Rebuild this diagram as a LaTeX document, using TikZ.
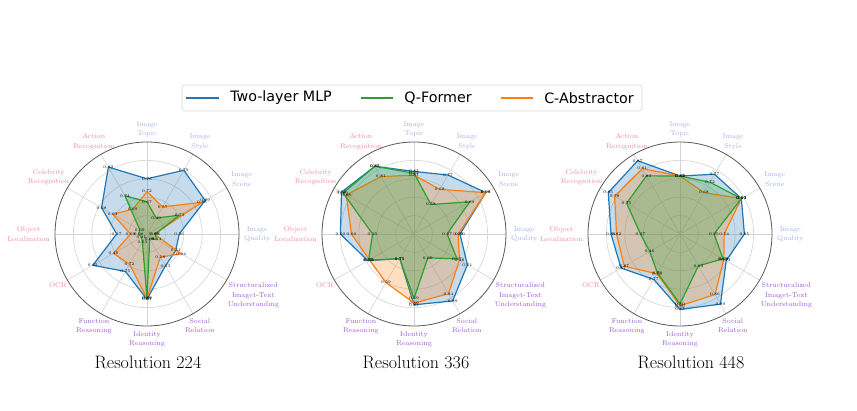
\documentclass[tikz,border=0pt]{standalone}
\usepackage{fontspec}
\newfontfamily\legfont{DejaVu Sans}
\usepackage{tikz}
\usetikzlibrary{positioning}

\definecolor{mlp}{HTML}{1F77B4}
\definecolor{qf}{HTML}{2CA02C}
\definecolor{cabs}{HTML}{FF7F0E}
\definecolor{imgc}{HTML}{A7B3E8}
\definecolor{recc}{HTML}{F08C9C}
\definecolor{reac}{HTML}{9C5ED6}

\pgfdeclarelayer{front}
\pgfsetlayers{main,front}

\tikzset{
  gridc/.style={draw=black!17, line width=0.6pt},
  rim/.style={draw=black!65, line width=0.8pt},
  axlab/.style={font=\fontsize{7}{9.3}\selectfont, align=center, inner sep=0.5pt},
  val/.style={font=\fontsize{4}{4}\selectfont, inner sep=0pt},
  poly/.style={draw=#1, fill=#1, fill opacity=.25, line width=1.2pt, line join=round},
  ttl/.style={font=\fontsize{18}{20}\selectfont},
  legbox/.style={draw=black!15, fill=white, rounded corners=3pt, line width=0.6pt},
  legline/.style={draw=#1, line width=2.5pt},
  legtxt/.style={font=\legfont\fontsize{14.3}{16}\selectfont, inner sep=0pt}
}

% one polygon: name prefix, colour, radius/value pairs from Image Topic clockwise
\newcommand{\radarseries}[3]{%
  \foreach \r/\v [count=\i from 0] in {#3}{
    \coordinate (#1\i) at (90-30*\i:\r*92);
    \begin{pgfonlayer}{front}\node[val] (#1v\i) at (#1\i) {\v};\end{pgfonlayer}
  }
  \draw[poly=#2] (#10) \foreach \i in {1,...,11}{ -- (#1\i)} -- cycle;
}

\begin{document}
\begin{tikzpicture}[x=1pt,y=1pt]
  \fill[white] (0,0) rectangle (857,410);
  \useasboundingbox (0,0) rectangle (857,410);
  \clip (0,0) rectangle (812,410);

  % grid, axis names and titles
  \foreach \cx/\tx/\res in {147/148/224, 414/416/336, 680/691/448}{
    \begin{scope}[shift={(\cx,176)}]
      \foreach \g in {0.2,0.4,0.6,0.8} \draw[gridc] (0,0) circle[radius=\g*92];
      \foreach \i in {0,...,11} \draw[gridc] (0,0) -- (90-30*\i:92);
      \draw[rim] (0,0) circle[radius=92];
      \foreach \t/\c [count=\i from 0] in {{Image\\Topic}/imgc, {Image\\Style}/imgc,
          {Image\\Scene}/imgc, {Image\\Quality}/imgc,
          {Structuralized\\Imaget-Text\\Understanding}/reac, {Social\\Relation}/reac,
          {Identity\\Reasoning}/reac, {Function\\Reasoning}/reac, {OCR}/recc,
          {Object\\Localization}/recc, {Celebrity\\Recognition}/recc, {Action\\Recognition}/recc}{
        \pgfmathtruncatemacro\ang{mod(630-30*\i,360)}
        \node[axlab, text=\c, anchor=\ang] (lab\res-\i) at (90-30*\i:96.5) {\t};
      }
    \end{scope}
    \node[ttl] (ttl\res) at (\tx,48) {Resolution \res};
  }

  % resolution 224
  \begin{scope}[shift={(147,176)}]
    \radarseries{A-b}{mlp}{.60/0.76, .80/0.79, .73/0.89, .35/0.26, .36/0.21, .40/0.63,
      .71/0.81, .47/0.75, .68/0.62, .33/0.17, .57/0.68, .84/0.83}
    \radarseries{A-o}{cabs}{.46/0.72, .34/0.57, .69/0.88, .08/0.09, .43/0.24, .29/0.58,
      .70/0.89, .38/0.72, .42/0.49, .18/0.09, .43/0.63, .31/0.69}
    \radarseries{A-g}{qf}{.35/0.67, .20/0.49, .41/0.73, .09/0.06, .12/0.14, .06/0.09,
      .70/0.89, .10/0.03, .07/0.11, .09/0.08, .09/0.09, .48/0.74}
  \end{scope}

  % resolution 336
  \begin{scope}[shift={(414,176)}]
    \radarseries{B-b}{mlp}{.68/0.83, .74/0.77, .90/0.99, .50/0.30, .67/0.51, .84/0.89,
      .77/0.81, .31/0.75, .58/0.57, .80/0.60, .91/0.90, .85/0.85}
    \radarseries{B-o}{cabs}{.64/0.81, .56/0.68, .90/0.98, .48/0.29, .57/0.48, .75/0.84,
      .75/0.80, .61/0.59, .56/0.55, .68/0.60, .85/0.88, .72/0.81}
    \radarseries{B-g}{qf}{.66/0.82, .37/0.58, .70/0.89, .36/0.27, .54/0.47, .30/0.60,
      .70/0.69, .31/0.75, .57/0.56, .45/0.25, .89/0.89, .85/0.85}
  \end{scope}

  % resolution 448
  \begin{scope}[shift={(680,176)}]
    \radarseries{C-b}{mlp}{.63/0.83, .75/0.77, .77/0.93, .70/0.85, .58/0.71, .88/0.89,
      .82/0.83, .57/0.77, .74/0.87, .75/0.84, .90/0.85, .92/0.87}
    \radarseries{C-o}{cabs}{.63/0.82, .52/0.68, .77/0.93, .48/0.54, .55/0.69, .76/0.86,
      .78/0.80, .50/0.79, .70/0.87, .69/0.82, .82/0.78, .82/0.81}
    \radarseries{C-g}{qf}{.63/0.83, .65/0.72, .77/0.93, .37/0.25, .54/0.69, .40/0.63,
      .76/0.80, .49/0.79, .38/0.46, .43/0.27, .67/0.75, .73/0.83}
  \end{scope}

  % legend
  \node[legbox, minimum width=460pt, minimum height=26pt] (legend) at (412,312) {};
  \coordinate (sw1) at (186,312);
  \coordinate (sw2) at (361,312);
  \coordinate (sw3) at (501,312);
  \draw[legline=mlp] (sw1) -- ++(33,0) node[legtxt, right=10pt] (leg-mlp) {Two-layer MLP};
  \draw[legline=qf] (sw2) -- ++(32,0) node[legtxt, right=10pt] (leg-qf) {Q-Former};
  \draw[legline=cabs] (sw3) -- ++(32,0) node[legtxt, right=10pt] (leg-cabs) {C-Abstractor};
\end{tikzpicture}
\end{document}
